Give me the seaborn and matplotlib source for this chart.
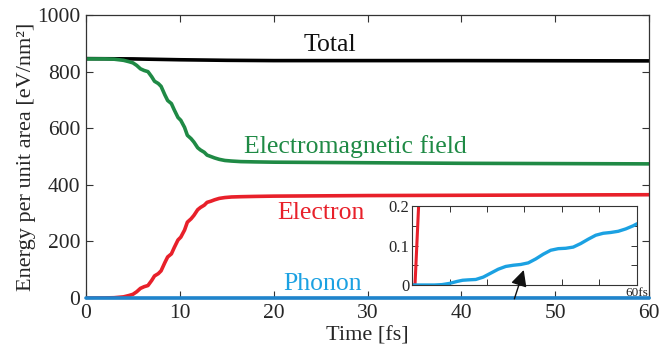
import numpy as np
import pandas as pd
import matplotlib
matplotlib.use("Agg")
import matplotlib.pyplot as plt
import seaborn as sns

# ---------------- data ----------------
time_total = [0, 5, 10, 15, 20, 40, 60]
total = [846, 845, 842, 840, 839, 839, 838]

time_main = [0, 0.8, 2.0, 3, 4, 4.6, 5.0, 5.4, 5.8, 6.2, 6.6, 7.0, 7.3, 7.7, 8.0, 8.4, 8.7,
             9.1, 9.4, 9.8, 10.1, 10.5, 10.8, 11.2, 11.5, 11.9, 12.2, 12.6, 12.9, 13.3,
             13.7, 14.2, 14.8, 15.5, 16.5, 18, 20, 30, 40, 50, 60]
electron = [0, 0, 0.25, 1, 4, 9, 13, 22, 34, 40, 44, 62, 78, 86, 96, 125, 145,
            156, 178, 205, 215, 240, 268, 280, 292, 312, 320, 328, 338, 342,
            347, 352, 355, 357, 358, 359, 360, 362, 363, 364, 365]
em_field = [845, 845, 845, 844, 840, 835, 831, 822, 810, 804, 800, 782, 766, 758, 748, 718, 698,
            687, 665, 638, 628, 603, 575, 563, 551, 531, 523, 515, 505, 500,
            495, 490, 486, 484, 482, 481, 480, 478, 476, 475, 474]

time_phonon = [0, 6, 8, 10, 12, 13.5, 15, 17, 19, 21, 23, 25, 27, 29, 31, 33, 35, 37, 39,
               41, 43, 45, 47, 49, 51, 53, 55, 57, 59, 60]
phonon = [0, 0, 0.001, 0.004, 0.009, 0.012, 0.013, 0.014, 0.020, 0.030, 0.040, 0.047,
          0.050, 0.052, 0.056, 0.066, 0.078, 0.088, 0.092, 0.093, 0.096, 0.105, 0.116,
          0.126, 0.131, 0.133, 0.136, 0.142, 0.150, 0.155]

x_ticks = [0, 10, 20, 30, 40, 50, 60]
y_ticks = [0, 200, 400, 600, 800, 1000]
inset_y_ticks = [0, 0.1, 0.2]

# ---------------- style ----------------
sns.set_theme(style="ticks")
plt.rcParams["font.family"] = ["Liberation Serif", "DejaVu Serif"]
plt.rcParams["xtick.direction"] = "in"
plt.rcParams["ytick.direction"] = "in"

C_TOTAL = "#000000"
C_EM = "#1f8a45"
C_EL = "#e8202a"
C_PH = "#1ba1e2"
C_PH_MAIN = "#1f84cc"
SPINE = "#333333"

df_total = pd.DataFrame({"t": time_total, "E": total})
df_main = pd.DataFrame({"t": time_main, "el": electron, "em": em_field})
df_ph = pd.DataFrame({"t": time_phonon, "ph": phonon})

fig = plt.figure(figsize=(6.59, 3.5), dpi=100)
ax = fig.add_axes([0.1305, 0.1486, 0.8545, 0.8084])

sns.lineplot(data=df_total, x="t", y="E", ax=ax, color=C_TOTAL, lw=2.6)
sns.lineplot(data=df_main, x="t", y="em", ax=ax, color=C_EM, lw=2.6)
sns.lineplot(data=df_main, x="t", y="el", ax=ax, color=C_EL, lw=2.6)
sns.lineplot(data=df_ph, x="t", y="ph", ax=ax, color=C_PH_MAIN, lw=2.6, clip_on=False, zorder=5)

ax.set_xlim(0, 60)
ax.set_ylim(0, 1000)
ax.set_xticks(x_ticks)
ax.set_yticks(y_ticks)
ax.tick_params(axis="both", labelsize=15.5, length=5, width=0.8, color=SPINE,
               top=True, right=True, pad=4)
for s in ax.spines.values():
    s.set_visible(True)
    s.set_linewidth(0.9)
    s.set_color(SPINE)
ax.set_xlabel("Time [fs]", fontsize=16, labelpad=3)
ax.set_ylabel("Energy per unit area [eV/nm²]", fontsize=16, labelpad=1)

ax.text(26, 894, "Total", color="#111111", fontsize=18.5, ha="center", va="center")
ax.text(28.7, 537, "Electromagnetic field", color=C_EM, fontsize=18.5, ha="center", va="center")
ax.text(25, 300, "Electron", color=C_EL, fontsize=18.5, ha="center", va="center")
ax.text(25.2, 49, "Phonon", color=C_PH, fontsize=18.5, ha="center", va="center")

# ---------------- inset ----------------
axi = fig.add_axes([0.6252, 0.1857, 0.3414, 0.2257])
sns.lineplot(data=df_main, x="t", y="el", ax=axi, color=C_EL, lw=2.2)
sns.lineplot(data=df_ph, x="t", y="ph", ax=axi, color=C_PH, lw=2.4)
axi.set_xlim(0, 60)
axi.set_ylim(0, 0.2)
axi.set_xticks(x_ticks)
axi.set_xticklabels([])
axi.set_yticks(inset_y_ticks)
axi.set_yticklabels(["0", "0.1", "0.2"])
axi.set_yticks([0.05, 0.15], minor=True)
axi.tick_params(axis="both", which="both", labelsize=12, length=4, width=0.7,
                color=SPINE, top=True, right=True, pad=2)
axi.set_xlabel("")
axi.set_ylabel("")
for s in axi.spines.values():
    s.set_visible(True)
    s.set_linewidth(0.8)
    s.set_color(SPINE)
axi.text(1.05, -0.02, "60fs", transform=axi.transAxes, fontsize=9.5,
         ha="right", va="top", color="#222222")
axi.annotate("", xy=(29.8, 0.038), xytext=(27.3, -0.035),
             arrowprops=dict(arrowstyle="-|>,head_length=0.7,head_width=0.35",
                             color="#111111", lw=1.0, mutation_scale=14,
                             shrinkA=0, shrinkB=0),
             annotation_clip=False, zorder=10)

fig.savefig("out.png", dpi=100)
